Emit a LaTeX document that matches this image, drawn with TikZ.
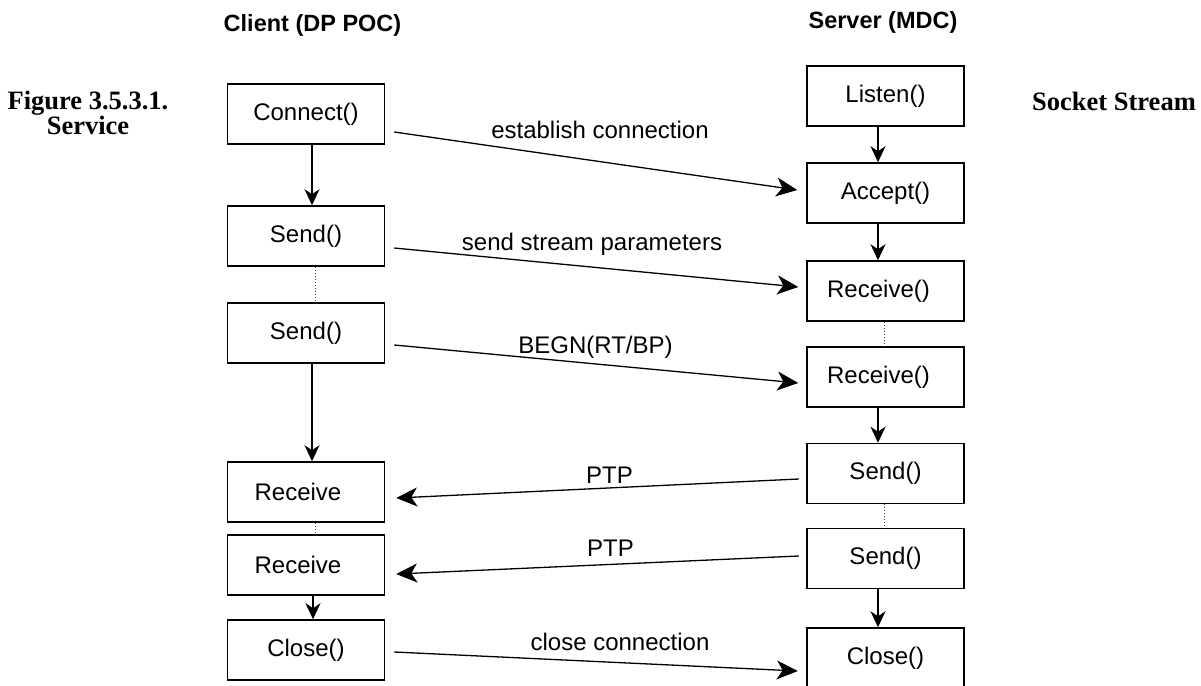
\documentclass[tikz,border=0pt]{standalone}
\usepackage{fontspec}
\setmainfont{Liberation Serif}
\setsansfont{Liberation Sans}
\usetikzlibrary{arrows.meta}
\begin{document}
\begin{tikzpicture}[x=1pt,y=-1pt,
  box/.style={draw, line width=1.5pt, minimum width=157pt, minimum height=60pt, inner sep=0pt, font=\sffamily\fontsize{24}{28}\selectfont},
  lbl/.style={anchor=base, inner sep=0pt, font=\sffamily\fontsize{24}{28}\selectfont},
  ttl/.style={anchor=base, inner sep=0pt, font=\sffamily\bfseries\fontsize{23.5}{28}\selectfont},
  figcap/.style={anchor=base, inner sep=0pt, font=\rmfamily\bfseries\fontsize{26.5}{30}\selectfont},
  msg/.style={line width=1.3pt, -{Stealth[length=21pt,width=19pt,inset=6pt]}},
  flow/.style={line width=1.3pt, -{Stealth[length=16pt,width=15pt,inset=5pt]}},
  dots/.style={line width=1pt, dotted, black!70}
]
\useasboundingbox (0,0) rectangle (1201,685);
% titles
\node[ttl] (tclient) at (312.5,32) {Client (DP POC)};
\node[ttl] (tserver) at (883,29) {Server (MDC)};
\node[figcap] (fig1) at (88,109) {Figure 3.5.3.1.};
\node[figcap] (fig2) at (88,134) {Service};
\node[figcap] (sock) at (1114,110) {Socket Stream};
% client column
\node[box] (connect) at (306,114) {Connect()};
\node[box] (csend1) at (306,236) {Send()};
\node[box] (csend2) at (306,333) {Send()};
\node[box] (crecv1) at (306,492) {\hspace*{-16pt}Receive};
\node[box] (crecv2) at (306,565) {\hspace*{-16pt}Receive};
\node[box] (cclose) at (306,650) {Close()};
% server column
\node[box] (listen) at (885.5,96) {Listen()};
\node[box] (accept) at (885.5,193) {Accept()};
\node[box] (srecv1) at (885.5,291) {\hspace*{-14pt}Receive()};
\node[box] (srecv2) at (885.5,377) {\hspace*{-14pt}Receive()};
\node[box] (ssend1) at (885.5,473.5) {Send()};
\node[box] (ssend2) at (885.5,558.5) {Send()};
\node[box] (sclose) at (885.5,658) {Close()};
% client flow
\draw[flow] ([xshift=6pt]connect.south) -- ([xshift=6pt]csend1.north);
\draw[dots] ([xshift=9pt]csend1.south) -- ([xshift=9pt]csend2.north);
\draw[flow] ([xshift=6pt]csend2.south) -- ([xshift=6pt]crecv1.north);
\draw[dots] ([xshift=9pt]crecv1.south) -- ([xshift=9pt]crecv2.north);
\draw[flow] ([xshift=7pt]crecv2.south) -- ([xshift=7pt]cclose.north);
% server flow
\draw[flow] ([xshift=-7.5pt]listen.south) -- ([xshift=-7.5pt]accept.north);
\draw[flow] ([xshift=-7.5pt]accept.south) -- ([xshift=-7.5pt]srecv1.north);
\draw[dots] ([xshift=-1.5pt]srecv1.south) -- ([xshift=-1.5pt]srecv2.north);
\draw[flow] ([xshift=-7.5pt]srecv2.south) -- ([xshift=-7.5pt]ssend1.north);
\draw[dots] ([xshift=-1.5pt]ssend1.south) -- ([xshift=-1.5pt]ssend2.north);
\draw[flow] ([xshift=-7.5pt]ssend2.south) -- ([xshift=-7.5pt]sclose.north);
% messages
\draw[msg] ([xshift=9pt,yshift=-18pt]connect.east) -- ([xshift=-9pt,yshift=3pt]accept.west);
\draw[msg] ([xshift=9pt,yshift=-12pt]csend1.east) -- ([xshift=-8pt,yshift=4pt]srecv1.west);
\draw[msg] ([xshift=9pt,yshift=-12pt]csend2.east) -- ([xshift=-8pt,yshift=-6pt]srecv2.west);
\draw[msg] ([xshift=-7.5pt,yshift=-5.5pt]ssend1.west) -- ([xshift=11pt,yshift=-6pt]crecv1.east);
\draw[msg] ([xshift=-7.5pt,yshift=2.5pt]ssend2.west) -- ([xshift=11pt,yshift=-9pt]crecv2.east);
\draw[msg] ([xshift=9pt,yshift=-2pt]cclose.east) -- ([xshift=-8.5pt,yshift=-13pt]sclose.west);
% labels
\node[lbl] (l1) at (600,138) {establish connection};
\node[lbl] (l2) at (592,250) {send stream parameters};
\node[lbl] (l3) at (595.5,353) {BEGN(RT/BP)};
\node[lbl] (l4) at (609.5,483) {PTP};
\node[lbl] (l5) at (610.5,556) {PTP};
\node[lbl] (l6) at (620,650) {close connection};
\end{tikzpicture}
\end{document}
